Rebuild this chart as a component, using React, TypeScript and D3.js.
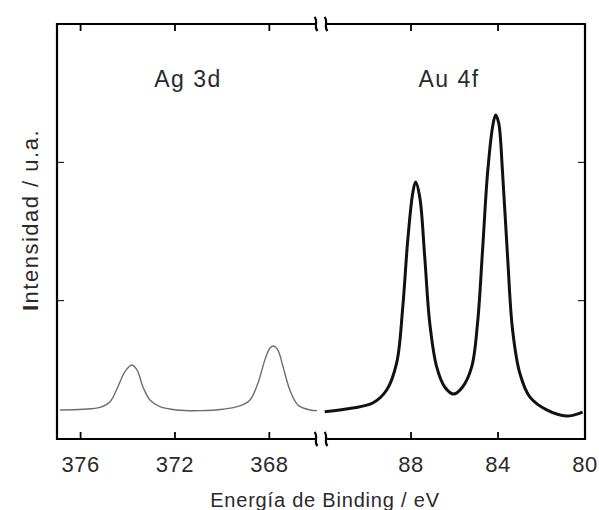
import React from "react";
import * as d3 from "d3";

// Ag 3d region (binding energy eV, intensity a.u.)
const agEnergy = [376.87, 375.9, 375.18, 374.75, 374.42, 374.12, 373.83, 373.61, 373.36, 373.06, 372.64, 371.92, 370.94, 369.97, 369.25, 368.82, 368.48, 368.19, 367.97, 367.81, 367.64, 367.42, 367.13, 366.79, 366.28, 365.98];
const agIntensity = [0.21, 0.215, 0.229, 0.27, 0.378, 0.487, 0.535, 0.499, 0.378, 0.282, 0.234, 0.21, 0.205, 0.215, 0.239, 0.282, 0.405, 0.571, 0.658, 0.672, 0.644, 0.523, 0.354, 0.246, 0.21, 0.205];

// Au 4f region
const auEnergy = [91.97, 90.68, 89.76, 89.12, 88.66, 88.38, 88.15, 87.92, 87.79, 87.6, 87.37, 87.14, 86.82, 86.45, 86.04, 85.63, 85.21, 84.94, 84.71, 84.48, 84.25, 84.11, 83.97, 83.79, 83.56, 83.33, 83.0, 82.54, 81.76, 80.84, 80.11];
const auIntensity = [0.197, 0.224, 0.26, 0.354, 0.55, 0.954, 1.439, 1.779, 1.858, 1.75, 1.316, 0.839, 0.521, 0.376, 0.325, 0.376, 0.521, 0.839, 1.367, 1.923, 2.256, 2.343, 2.285, 1.923, 1.316, 0.788, 0.477, 0.304, 0.21, 0.166, 0.195];

const agTicks = [376, 372, 368];
const auTicks = [88, 84, 80];
const yTicks = [1, 2];
const peakLabels = ["Ag 3d", "Au 4f"];
const xLabel = "Energía de Binding / eV";
const yLabelFirst = "I";
const yLabelRest = "ntensidad / u.a.";

const W = 599, H = 510;
const L = 57, R = 585, T = 24, B = 439, BRK = 321;
const FONT = "'Liberation Sans', Arial, Helvetica, sans-serif";

export default function App() {
  const xAg = d3.scaleLinear().domain([377, 365.81]).range([L, BRK]);
  const xAu = d3.scaleLinear().domain([92.14, 80]).range([BRK, R]);
  const y = d3.scaleLinear().domain([0, 3]).range([B, T]);

  const agData = agEnergy.map((e, i) => [e, agIntensity[i]] as [number, number]);
  const auData = auEnergy.map((e, i) => [e, auIntensity[i]] as [number, number]);

  const agLine = d3.line<[number, number]>().x(d => xAg(d[0])).y(d => y(d[1])).curve(d3.curveCatmullRom.alpha(0.5));
  const auLine = d3.line<[number, number]>().x(d => xAu(d[0])).y(d => y(d[1])).curve(d3.curveCatmullRom.alpha(0.5));

  const tickLen = 7;
  const gap1 = BRK - 5, gap2 = BRK + 5;
  const breakMark = (x: number, yy: number, key: string) => (
    <path key={key} d={`M${x - 1.5},${yy - 7} C${x + 2.5},${yy - 3} ${x - 2.5},${yy + 3} ${x + 1.5},${yy + 7}`} fill="none" stroke="#000" strokeWidth={2.2} />
  );

  const frame = "#000";
  const txt = "#2a2a2a";
  return (
    <svg width={W} height={H} style={{ position: "absolute", left: 0, top: 0 }} fontFamily={FONT}>
      <rect width={W} height={H} fill="#fff" />
      {/* data */}
      <path d={agLine(agData) || ""} fill="none" stroke="#6e6e6e" strokeWidth={1.4} />
      <path d={auLine(auData) || ""} fill="none" stroke="#111" strokeWidth={3} />

      {/* frame */}
      <line x1={L} y1={T} x2={L} y2={B} stroke={frame} strokeWidth={2.2} />
      <line x1={R} y1={T} x2={R} y2={B} stroke={frame} strokeWidth={2.2} />
      {[T, B].map((yy) => (
        <g key={yy}>
          <line x1={L - 1.1} y1={yy} x2={gap1} y2={yy} stroke={frame} strokeWidth={2.2} />
          <line x1={gap2} y1={yy} x2={R + 1.1} y2={yy} stroke={frame} strokeWidth={2.2} />
          {breakMark(gap1, yy, "a")}
          {breakMark(gap2, yy, "b")}
        </g>
      ))}

      {/* x ticks */}
      {agTicks.map(t => (
        <g key={"ag" + t}>
          <line x1={xAg(t)} x2={xAg(t)} y1={B} y2={B - tickLen} stroke={frame} strokeWidth={1.8} />
          <line x1={xAg(t)} x2={xAg(t)} y1={T} y2={T + tickLen} stroke={frame} strokeWidth={1.8} />
          <text x={xAg(t)} y={472} textAnchor="middle" fontSize={22} letterSpacing={0.5} fill={txt}>{t}</text>
        </g>
      ))}
      {auTicks.map(t => (
        <g key={"au" + t}>
          <line x1={xAu(t)} x2={xAu(t)} y1={B} y2={B - tickLen} stroke={frame} strokeWidth={1.8} />
          <line x1={xAu(t)} x2={xAu(t)} y1={T} y2={T + tickLen} stroke={frame} strokeWidth={1.8} />
          <text x={xAu(t)} y={472} textAnchor="middle" fontSize={22} letterSpacing={0.5} fill={txt}>{t}</text>
        </g>
      ))}

      {/* y ticks */}
      {yTicks.map(t => (
        <g key={"y" + t}>
          <line x1={L} x2={L + tickLen} y1={y(t)} y2={y(t)} stroke={frame} strokeWidth={1} />
          <line x1={R} x2={R - tickLen} y1={y(t)} y2={y(t)} stroke={frame} strokeWidth={1} />
        </g>
      ))}

      {/* peak labels */}
      <text x={188} y={87} textAnchor="middle" fontSize={23} letterSpacing={1.5} fill={txt}>{peakLabels[0]}</text>
      <text x={449} y={87} textAnchor="middle" fontSize={23} letterSpacing={1.5} fill={txt}>{peakLabels[1]}</text>

      {/* axis titles */}
      <text x={325} y={507} textAnchor="middle" fontSize={20} fill={txt} letterSpacing={0.8}>{xLabel}</text>
      <text transform={`translate(38,${220}) rotate(-90)`} textAnchor="middle" fontSize={22} fill={txt} letterSpacing={1.5}>
        <tspan fontWeight="bold">{yLabelFirst}</tspan>{yLabelRest}
      </text>
    </svg>
  );
}
